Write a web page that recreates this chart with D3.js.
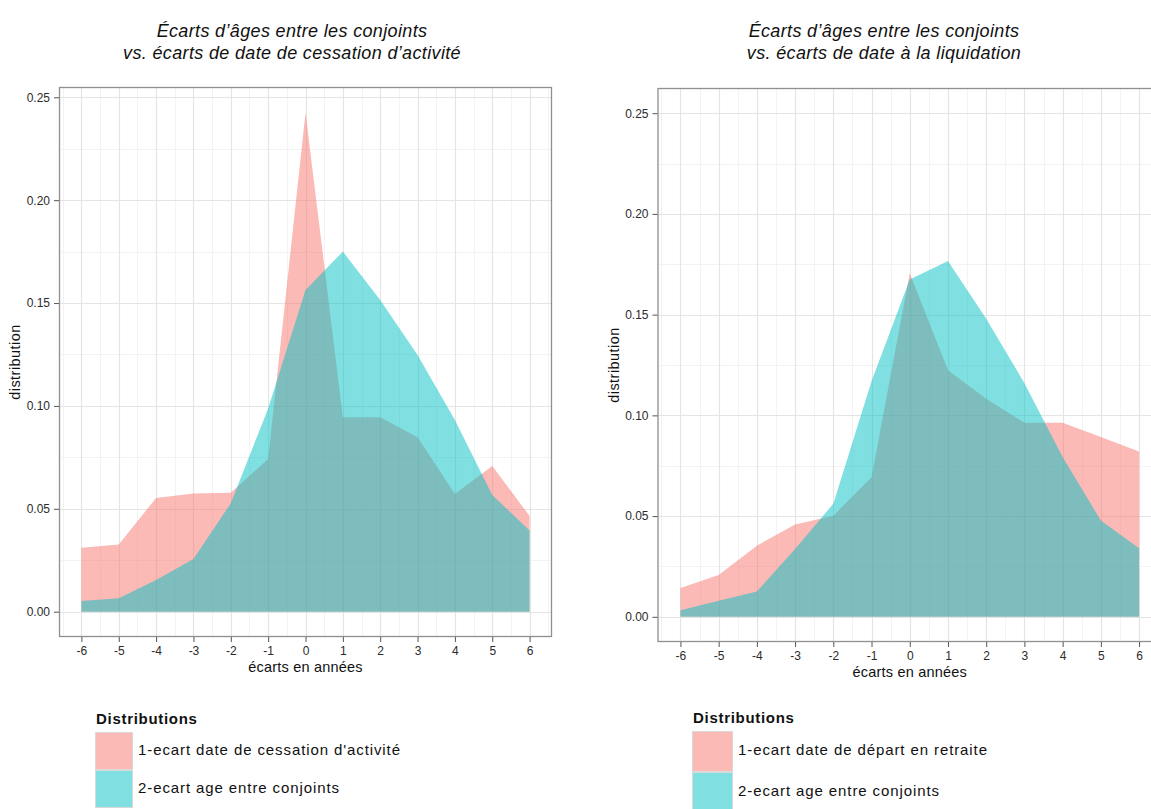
<!DOCTYPE html>
<html>
<head>
<meta charset="utf-8">
<script src="https://cdn.jsdelivr.net/npm/d3@7/dist/d3.min.js"></script>
<style>
  html, body { margin: 0; padding: 0; background: #fff; }
  svg { display: block; font-family: "Liberation Sans", Arial, sans-serif; }
</style>
</head>
<body>
<svg id="chart" width="1151" height="809"></svg>
<script>
// Gap in years between spouses (x axis of both panels)
const ecarts = [-6, -5, -4, -3, -2, -1, 0, 1, 2, 3, 4, 5, 6];
const xTickLabels = ["-6", "-5", "-4", "-3", "-2", "-1", "0", "1", "2", "3", "4", "5", "6"];
const yTicks = [0, 0.05, 0.10, 0.15, 0.20, 0.25];

// Left panel: gap in date of stopping work vs. age gap
const cessationValues = [0.0311, 0.0326, 0.0553, 0.0575, 0.0578, 0.0742, 0.2425, 0.0945, 0.0945, 0.0848, 0.0572, 0.0708, 0.0465];
const ageGapLeftValues = [0.0052, 0.0065, 0.0154, 0.0256, 0.0527, 0.0988, 0.1563, 0.1750, 0.1515, 0.1247, 0.0932, 0.0567, 0.0394];

// Right panel: gap in retirement date vs. age gap
const departValues = [0.0143, 0.0207, 0.0353, 0.0458, 0.0502, 0.0693, 0.1705, 0.1224, 0.1083, 0.0963, 0.0963, 0.0892, 0.0821];
const ageGapRightValues = [0.0033, 0.0080, 0.0126, 0.0337, 0.0561, 0.1169, 0.1675, 0.1766, 0.1480, 0.1160, 0.0793, 0.0478, 0.0340];

const seriesColors = ["#F8766D", "#00BFC4"];
const legendTitle = "Distributions";

const svg = d3.select("#chart");

function drawPanel(cfg) {
  const g = svg.append("g");
  const x = d3.scaleLinear().domain([-6.6, 6.6]).range([cfg.left, cfg.right]);
  const y = d3.scaleLinear().domain(cfg.yDomain).range([cfg.bottom, cfg.top]);

  // clip for the plotting area
  const clipId = "clip-" + cfg.id;
  g.append("clipPath").attr("id", clipId)
    .append("rect")
    .attr("x", cfg.left).attr("y", cfg.top)
    .attr("width", cfg.right - cfg.left).attr("height", cfg.bottom - cfg.top);

  const plot = g.append("g").attr("clip-path", `url(#${clipId})`);

  // minor grid
  const minorX = d3.range(-6.5, 7, 1);
  const minorY = d3.range(0.025, 0.26, 0.05);
  plot.selectAll(".minor-x").data(minorX).join("line")
    .attr("x1", d => Math.round(x(d)) + 0.5).attr("x2", d => Math.round(x(d)) + 0.5)
    .attr("y1", cfg.top).attr("y2", cfg.bottom)
    .attr("stroke", "#f3f3f3").attr("stroke-width", 1);
  plot.selectAll(".minor-y").data(minorY).join("line")
    .attr("y1", d => Math.round(y(d)) + 0.5).attr("y2", d => Math.round(y(d)) + 0.5)
    .attr("x1", cfg.left).attr("x2", cfg.right)
    .attr("stroke", "#f3f3f3").attr("stroke-width", 1);

  // major grid
  plot.selectAll(".major-x").data(ecarts).join("line")
    .attr("x1", d => Math.round(x(d)) + 0.5).attr("x2", d => Math.round(x(d)) + 0.5)
    .attr("y1", cfg.top).attr("y2", cfg.bottom)
    .attr("stroke", "#e4e4e4").attr("stroke-width", 1.2);
  plot.selectAll(".major-y").data(yTicks).join("line")
    .attr("y1", d => Math.round(y(d)) + 0.5).attr("y2", d => Math.round(y(d)) + 0.5)
    .attr("x1", cfg.left).attr("x2", cfg.right)
    .attr("stroke", "#e4e4e4").attr("stroke-width", 1.2);

  // areas
  const area = d3.area()
    .x((d, i) => x(ecarts[i]))
    .y0(y(0))
    .y1(d => y(d));
  cfg.series.forEach((vals, k) => {
    plot.append("path")
      .datum(vals)
      .attr("d", area)
      .attr("fill", seriesColors[k])
      .attr("fill-opacity", 0.5);
  });

  // panel border
  g.append("rect")
    .attr("x", cfg.left + 0.5).attr("y", cfg.top + 0.5)
    .attr("width", cfg.right - cfg.left - 1).attr("height", cfg.bottom - cfg.top - 1)
    .attr("fill", "none").attr("stroke", "#8f8f8f").attr("stroke-width", 1.3);

  // axes
  const xAxis = d3.axisBottom(x).tickValues(ecarts)
    .tickFormat((d, i) => xTickLabels[i]).tickSize(5).tickPadding(4);
  const gx = g.append("g").attr("transform", `translate(0,${cfg.bottom})`).call(xAxis);
  gx.select(".domain").remove();
  gx.selectAll(".tick line").attr("stroke", "#555");
  gx.selectAll(".tick text").attr("fill", "#2b2b2b").style("font-size", "12px");

  const yAxis = d3.axisLeft(y).tickValues(yTicks)
    .tickFormat(d3.format(".2f")).tickSize(5).tickPadding(4);
  const gy = g.append("g").attr("transform", `translate(${cfg.left},0)`).call(yAxis);
  gy.select(".domain").remove();
  gy.selectAll(".tick line").attr("stroke", "#555");
  gy.selectAll(".tick text").attr("fill", "#2b2b2b").style("font-size", "12px");

  // axis titles
  g.append("text")
    .attr("x", (x(-6) + x(6)) / 2).attr("y", cfg.xTitleY)
    .attr("text-anchor", "middle").attr("dominant-baseline", "middle")
    .style("font-size", "14.5px").style("letter-spacing", "0.2px").attr("fill", "#111")
    .text("écarts en années");
  g.append("text")
    .attr("transform", `translate(${cfg.yTitleX},${(cfg.top + cfg.bottom) / 2}) rotate(-90)`)
    .attr("text-anchor", "middle").attr("dominant-baseline", "middle")
    .style("font-size", "14.5px").style("letter-spacing", "0.45px").attr("fill", "#111")
    .text("distribution");

  // title
  cfg.title.forEach((line, i) => {
    g.append("text")
      .attr("x", cfg.titleX).attr("y", cfg.titleY + i * 21.5)
      .attr("text-anchor", "middle")
      .style("font-size", "18px").style("font-style", "italic")
      .style("letter-spacing", "0.35px").attr("fill", "#111")
      .text(line);
  });

  // legend
  const lg = g.append("g").attr("transform", `translate(${cfg.legend.x},${cfg.legend.y})`);
  lg.append("text").attr("x", 1).attr("y", 0)
    .style("font-size", "15px").style("font-weight", "bold")
    .style("letter-spacing", "0.7px").attr("fill", "#111")
    .text(legendTitle);
  cfg.legend.labels.forEach((lab, k) => {
    const ky = 8 + k * cfg.legend.key;
    lg.append("rect")
      .attr("x", 0.5).attr("y", ky + 0.5)
      .attr("width", cfg.legend.key - 1).attr("height", cfg.legend.key - 1)
      .attr("fill", seriesColors[k]).attr("fill-opacity", 0.5)
      .attr("stroke", "#d9d9d9").attr("stroke-width", 1);
    lg.append("text")
      .attr("x", cfg.legend.key + 5).attr("y", ky + cfg.legend.key / 2)
      .attr("dominant-baseline", "middle")
      .style("font-size", "15px").style("letter-spacing", "0.9px").attr("fill", "#111")
      .text(lab);
  });
}

drawPanel({
  id: "left",
  left: 59, right: 552, top: 87, bottom: 637,
  yDomain: [-0.0123, 0.255],
  series: [cessationValues, ageGapLeftValues],
  xTitleY: 668, yTitleX: 16,
  title: ["Écarts d’âges entre les conjoints", "vs. écarts de date de cessation d’activité"],
  titleX: 292, titleY: 37,
  legend: { x: 95, y: 724, key: 38,
    labels: ["1-ecart date de cessation d'activité", "2-ecart age entre conjoints"] }
});

drawPanel({
  id: "right",
  left: 657.5, right: 1162, top: 88, bottom: 642,
  yDomain: [-0.0125, 0.2625],
  series: [departValues, ageGapRightValues],
  xTitleY: 673, yTitleX: 615,
  title: ["Écarts d’âges entre les conjoints", "vs. écarts de date à la liquidation"],
  titleX: 884, titleY: 37,
  legend: { x: 692, y: 723, key: 41,
    labels: ["1-ecart date de départ en retraite", "2-ecart age entre conjoints"] }
});
</script>
</body>
</html>
